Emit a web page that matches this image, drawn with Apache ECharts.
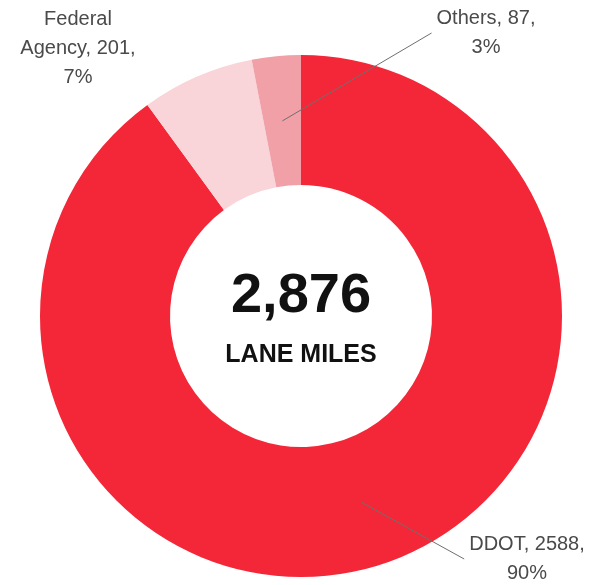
<!DOCTYPE html>
<html>
<head>
<meta charset="utf-8">
<script src="https://cdn.jsdelivr.net/npm/echarts@6/dist/echarts.min.js"></script>
<style>
  html, body { margin: 0; padding: 0; background: #ffffff; }
  #main { width: 591px; height: 585px; }
</style>
</head>
<body>
<div id="main"></div>
<script>
// Lane miles by owner
const owners = ['DDOT', 'Federal Agency', 'Others'];
const laneMiles = [2588, 201, 87];
const totalCaption = 'LANE MILES';

// Styling / layout
const sliceColors = ['#F32737', '#F9D4D8', '#F1A0A8'];
const CENTER = [301, 316];
const RING = [131, 261];
const GUIDE_R = 196;                                   // leader lines start mid-ring
const labelAnchors = [[527, 559], [78, 48], [486, 33]]; // label block centres, per owner
const labelFont = { fontFamily: 'Liberation Sans', fontSize: 20, color: '#4a4a4a', lineHeight: 29 };

const total = laneMiles.reduce((a, b) => a + b, 0);

const ringData = owners.map((name, i) => ({
  name, value: laneMiles[i], itemStyle: { color: sliceColors[i] }
}));
const labelData = owners.map((name, i) => ({
  name, value: laneMiles[i], labelLine: { show: name !== 'Federal Agency' }
}));

function labelText(p) {
  return p.name.replace(' ', '\n') + ', ' + p.value + ',\n' + p.percent + '%';
}

const chart = echarts.init(document.getElementById('main'), null, { renderer: 'canvas' });
chart.setOption({
  animation: false,
  backgroundColor: '#ffffff',
  series: [
    {
      type: 'pie',
      z: 2,
      center: CENTER,
      radius: RING,
      startAngle: 90,
      clockwise: true,
      silent: true,
      label: { show: false },
      labelLine: { show: false },
      data: ringData
    },
    {
      // transparent companion pie drawn on top: carries the labels and their leader lines
      type: 'pie',
      z: 6,
      center: CENTER,
      radius: [0, GUIDE_R],
      startAngle: 90,
      clockwise: true,
      silent: true,
      percentPrecision: 0,
      avoidLabelOverlap: false,
      itemStyle: { color: 'rgba(0,0,0,0)' },
      label: Object.assign({ show: true, position: 'outside', align: 'center', formatter: labelText }, labelFont),
      labelLine: { show: true, length: 10, length2: 10, lineStyle: { color: '#6f6f6f', width: 1 } },
      labelLayout: function (p) {
        const a = labelAnchors[p.dataIndex];
        const out = { x: a[0], y: a[1], align: 'center', verticalAlign: 'middle' };
        if (p.labelLinePoints && p.labelLinePoints.length) {
          out.labelLinePoints = [
            p.labelLinePoints[0].slice(),
            [a[0] - p.labelRect.width / 2 - 5, a[1]]
          ];
        }
        return out;
      },
      data: labelData
    }
  ],
  graphic: [
    {
      type: 'text',
      z: 10,
      x: CENTER[0],
      y: 297,
      style: {
        text: total.toLocaleString('en-US'),
        font: 'bold 56px "Liberation Sans"',
        fill: '#111111',
        align: 'center',
        verticalAlign: 'middle'
      }
    },
    {
      type: 'text',
      z: 10,
      x: CENTER[0],
      y: 355,
      style: {
        text: totalCaption,
        font: 'bold 25px "Liberation Sans"',
        fill: '#111111',
        align: 'center',
        verticalAlign: 'middle'
      }
    }
  ]
});
</script>
</body>
</html>
